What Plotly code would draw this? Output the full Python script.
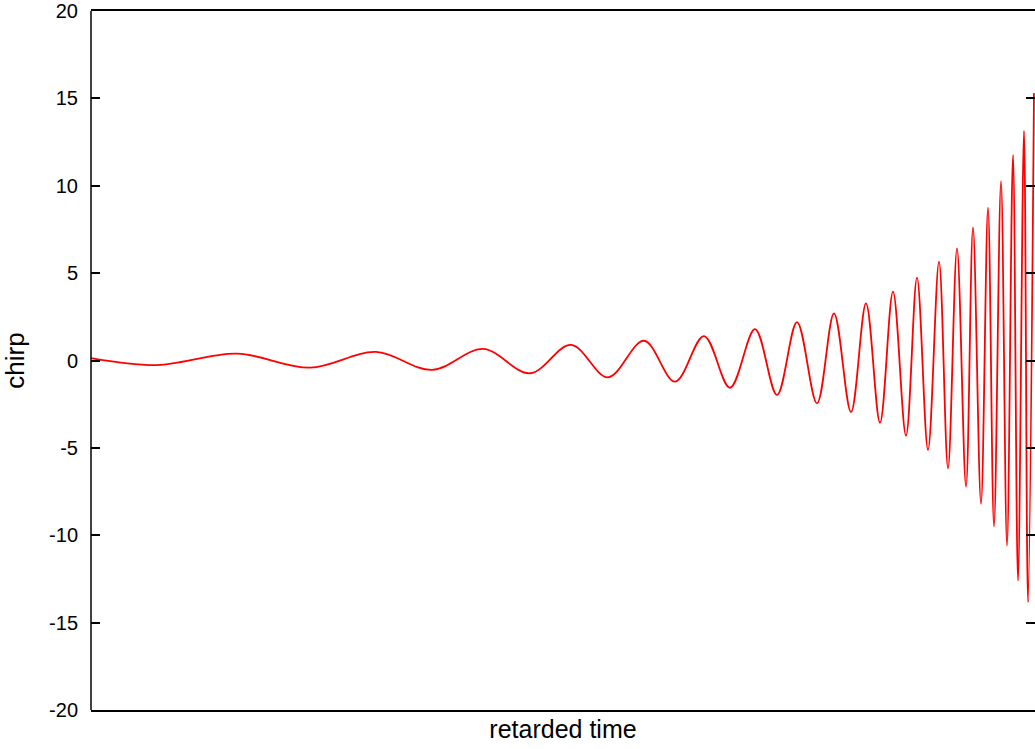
import plotly.graph_objects as go

# Retarded time (arbitrary units) of each extremum of the chirp
retarded_time = [0, 66, 146, 219, 285, 341, 392, 439, 480, 517, 553, 584, 613, 639,
                 664, 686, 706, 726, 743, 760, 775, 789, 802, 815, 826, 837, 848,
                 857, 866, 875, 882, 890, 897, 903, 910, 916, 922, 927, 933, 937, 943]
# Chirp value at each of those points
chirp = [0.14, -0.26, 0.39, -0.41, 0.49, -0.54, 0.66, -0.73, 0.89, -0.96, 1.13,
         -1.21, 1.40, -1.56, 1.79, -1.97, 2.20, -2.45, 2.70, -2.95, 3.27, -3.56,
         3.94, -4.30, 4.74, -5.12, 5.66, -6.17, 6.42, -7.22, 7.62, -8.2, 8.75,
         -9.5, 10.27, -10.6, 11.76, -12.6, 13.14, -13.84, 15.3]

y_ticks = [-20, -15, -10, -5, 0, 5, 10, 15, 20]

fig = go.Figure()
fig.add_trace(go.Scatter(
    x=retarded_time, y=chirp, mode="lines",
    line=dict(color="#ff0000", width=1.8, shape="spline", smoothing=1.0),
    showlegend=False, hoverinfo="skip",
))

# left frame edge (the right edge of the original frame lies just outside the picture)
fig.add_shape(type="line", xref="paper", yref="paper", x0=0, x1=0, y0=0, y1=1,
              line=dict(color="black", width=1.5))

font_family = "Liberation Sans, Arial, sans-serif"
fig.update_layout(
    width=1035, height=749,
    margin=dict(l=91, r=0, t=11, b=39),
    paper_bgcolor="white", plot_bgcolor="white",
    font=dict(family=font_family, size=20, color="black"),
    xaxis=dict(
        range=[0, 944], showgrid=False, zeroline=False,
        showticklabels=False, ticks="",
        showline=True, linecolor="black", linewidth=1.5, mirror=True,
        title=dict(text="retarded time", font=dict(size=25), standoff=10),
    ),
    yaxis=dict(
        range=[-20, 20], tickvals=y_ticks, ticktext=[str(v) for v in y_ticks],
        showgrid=False, zeroline=False,
        ticks="inside", ticklen=9, tickwidth=1.5, tickcolor="black",
        showline=False, mirror="ticks",
        ticklabelstandoff=12,
        title=dict(text="chirp", font=dict(size=26), standoff=16),
    ),
)

fig.write_html("out.html", config={"displayModeBar": False},
               post_script="document.body.style.margin='0';document.body.style.overflow='hidden';")
